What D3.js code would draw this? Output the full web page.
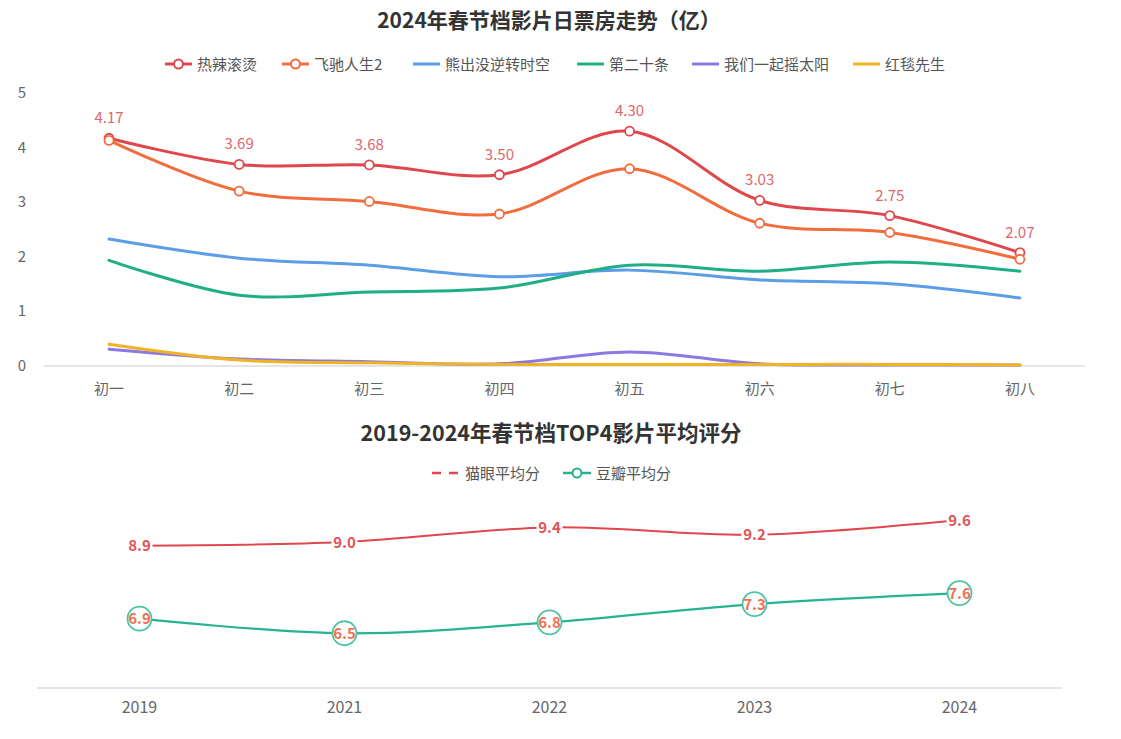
<!DOCTYPE html>
<html><head><meta charset="utf-8">
<script src="https://cdn.jsdelivr.net/npm/d3@7"></script>
<style>
html,body{margin:0;padding:0;background:#fff;}
svg{display:block;font-family:"Noto Sans CJK SC","Noto Sans",sans-serif;}
</style></head>
<body>
<svg id="c" width="1121" height="739"></svg>
<script>
// ---------- Data: chart 1 ----------
const days = ['初一','初二','初三','初四','初五','初六','初七','初八'];
const seriesNames = ['热辣滚烫','飞驰人生2','熊出没逆转时空','第二十条','我们一起摇太阳','红毯先生'];
const reLa      = [4.17,3.69,3.68,3.50,4.30,3.03,2.75,2.07];
const feiChi    = [4.13,3.20,3.01,2.78,3.61,2.61,2.44,1.95];
const xiongChu  = [2.32,1.97,1.84,1.63,1.75,1.57,1.50,1.24];
const diErShi   = [1.93,1.29,1.35,1.42,1.84,1.73,1.90,1.73];
const yaoTaiYang= [0.30,0.12,0.07,0.03,0.25,0.03,0.01,0.01];
const hongTan   = [0.39,0.10,0.05,0.02,0.02,0.02,0.02,0.01];
const yTicks1 = [0,1,2,3,4,5];

// ---------- Data: chart 2 ----------
const years = ['2019','2021','2022','2023','2024'];
const ratingNames = ['猫眼平均分','豆瓣平均分'];
const maoYan = [8.9,9.0,9.4,9.2,9.6];
const douBan = [6.9,6.5,6.8,7.3,7.6];

const svg = d3.select('#c');
const colors = ['#e0474c','#f26d3d','#5b9de6','#1fae86','#8c78e0','#f0b323'];
const allSeries = [reLa, feiChi, xiongChu, diErShi, yaoTaiYang, hongTan];
const curve = d3.curveCatmullRom.alpha(0.5);

// ===== Chart 1 =====
svg.append('text').attr('x',549).attr('y',28).attr('text-anchor','middle')
  .attr('font-size',21).attr('font-weight','bold').attr('fill','#333')
  .text('2024年春节档影片日票房走势（亿）');

// legend 1
const leg1X = [165,282,413,577,692,853];
seriesNames.forEach((n,i)=>{
  const g = svg.append('g').attr('transform',`translate(${leg1X[i]},64)`);
  g.append('line').attr('x1',0).attr('x2',27).attr('stroke',colors[i]).attr('stroke-width',3);
  if(i<2) g.append('circle').attr('cx',13.5).attr('r',4.5).attr('fill','#fff').attr('stroke',colors[i]).attr('stroke-width',2);
  g.append('text').attr('x',32).attr('y',5.5).attr('font-size',15).attr('fill','#555').text(n);
});

const x1 = d3.scaleBand().domain(days).range([44,1085]);
const y1 = d3.scaleLinear().domain([0,5]).range([365.5,93]);

svg.append('line').attr('x1',44).attr('x2',1085).attr('y1',366).attr('y2',366).attr('stroke','#ddd').attr('stroke-width',1.5);
svg.append('g').selectAll('text').data(days).join('text')
  .attr('x',d=>x1(d)+x1.bandwidth()/2).attr('y',394).attr('text-anchor','middle')
  .attr('font-size',15).attr('fill','#666').text(d=>d);
svg.append('g').selectAll('text').data(yTicks1).join('text')
  .attr('x',26).attr('y',d=>y1(d)+5).attr('text-anchor','end')
  .attr('font-size',15).attr('fill','#666').text(d=>d);

const line1 = d3.line().x((d,i)=>x1(days[i])+x1.bandwidth()/2).y(d=>y1(d)).curve(curve);
allSeries.forEach((s,i)=>{
  svg.append('path').attr('d',line1(s)).attr('fill','none')
    .attr('stroke',colors[i]).attr('stroke-width',3).attr('stroke-linecap','round');
});
[0,1].forEach(i=>{
  svg.append('g').selectAll('circle').data(allSeries[i]).join('circle')
    .attr('cx',(d,j)=>x1(days[j])+x1.bandwidth()/2).attr('cy',d=>y1(d)).attr('r',4.5)
    .attr('fill','#fff').attr('stroke',colors[i]).attr('stroke-width',1.8);
});
svg.append('g').selectAll('text').data(reLa).join('text')
  .attr('x',(d,j)=>x1(days[j])+x1.bandwidth()/2).attr('y',d=>y1(d)-15)
  .attr('text-anchor','middle').attr('font-size',15).attr('fill','#e0666a').text(d=>d.toFixed(2));

// ===== Chart 2 =====
svg.append('text').attr('x',551).attr('y',441).attr('text-anchor','middle')
  .attr('font-size',21.5).attr('font-weight','bold').attr('fill','#333')
  .text('2019-2024年春节档TOP4影片平均评分');

const rColors = ['#e0474c','#27b393'];
// legend 2
{
  const g = svg.append('g').attr('transform','translate(432,473)');
  g.append('line').attr('x1',0).attr('x2',28).attr('stroke',rColors[0]).attr('stroke-width',2.5).attr('stroke-dasharray','9,8');
  g.append('text').attr('x',33).attr('y',5.5).attr('font-size',15).attr('fill','#555').text(ratingNames[0]);
  const g2 = svg.append('g').attr('transform','translate(563,473)');
  g2.append('line').attr('x1',0).attr('x2',28).attr('stroke',rColors[1]).attr('stroke-width',2.5);
  g2.append('circle').attr('cx',14).attr('r',4.5).attr('fill','#fff').attr('stroke',rColors[1]).attr('stroke-width',2);
  g2.append('text').attr('x',33).attr('y',5.5).attr('font-size',15).attr('fill','#555').text(ratingNames[1]);
}

const x2 = d3.scaleBand().domain(years).range([37,1062]);
const y2 = d3.scaleLinear().domain([5,10]).range([688,505.5]);
svg.append('line').attr('x1',37).attr('x2',1062).attr('y1',688).attr('y2',688).attr('stroke','#ddd').attr('stroke-width',1.5);
svg.append('g').selectAll('text').data(years).join('text')
  .attr('x',d=>x2(d)+x2.bandwidth()/2).attr('y',713).attr('text-anchor','middle')
  .attr('font-size',16).attr('fill','#666').text(d=>d);

const line2 = d3.line().x((d,i)=>x2(years[i])+x2.bandwidth()/2).y(d=>y2(d)).curve(curve);
svg.append('path').attr('d',line2(maoYan)).attr('fill','none').attr('stroke',rColors[0]).attr('stroke-width',2);
svg.append('path').attr('d',line2(douBan)).attr('fill','none').attr('stroke',rColors[1]).attr('stroke-width',2.2);

// maoyan labels with white background
const mg = svg.append('g').selectAll('g').data(maoYan).join('g')
  .attr('transform',(d,j)=>`translate(${x2(years[j])+x2.bandwidth()/2},${y2(d)})`);
mg.append('rect').attr('x',-13).attr('y',-9).attr('width',26).attr('height',18).attr('fill','#fff');
mg.append('text').attr('y',5.5).attr('text-anchor','middle').attr('font-size',15).attr('font-weight','bold')
  .attr('fill','#e0555a').text(d=>d.toFixed(1));

// douban circles with labels
const dg = svg.append('g').selectAll('g').data(douBan).join('g')
  .attr('transform',(d,j)=>`translate(${x2(years[j])+x2.bandwidth()/2},${y2(d)})`);
dg.append('circle').attr('r',12).attr('fill','#fff').attr('stroke','#4cc3a6').attr('stroke-width',1.8);
dg.append('text').attr('y',5.5).attr('text-anchor','middle').attr('font-size',15).attr('font-weight','bold')
  .attr('fill','#f0714f').text(d=>d.toFixed(1));
</script>
</body></html>
